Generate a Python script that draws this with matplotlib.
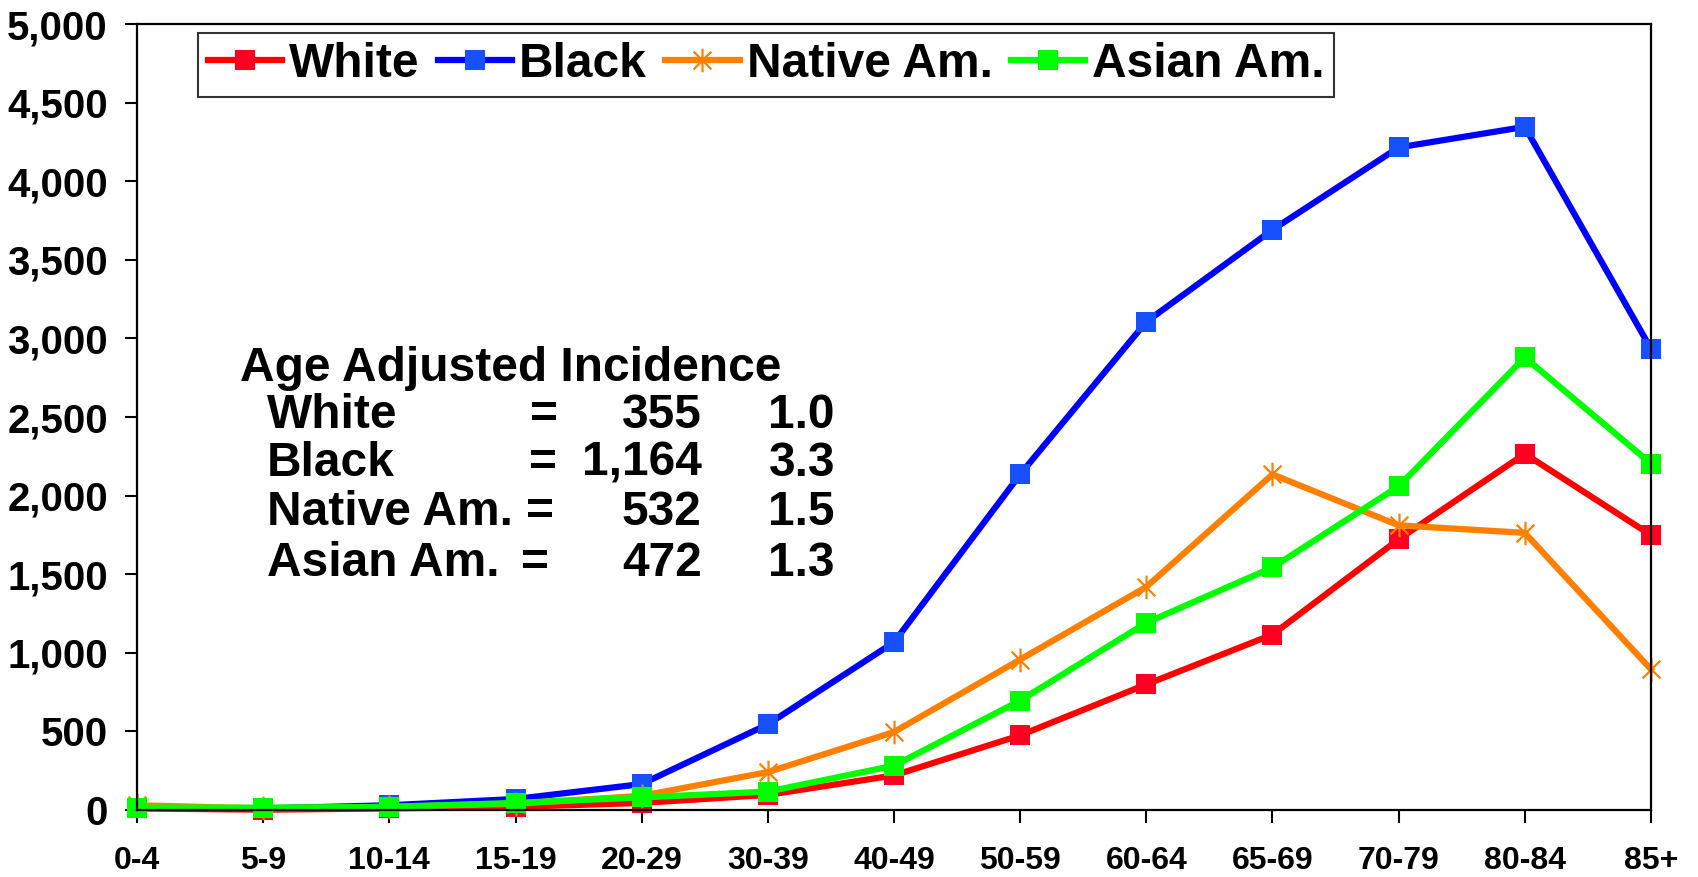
import matplotlib
matplotlib.use("Agg")
import matplotlib.pyplot as plt
from matplotlib.path import Path
from matplotlib.ticker import FuncFormatter, MultipleLocator

plt.rcParams['font.family'] = ['Liberation Sans', 'DejaVu Sans']
plt.rcParams['font.weight'] = 'bold'

ages = ['0-4', '5-9', '10-14', '15-19', '20-29', '30-39', '40-49',
        '50-59', '60-64', '65-69', '70-79', '80-84', '85+']

white = [10, 2, 10, 20, 45, 96, 220, 475, 799, 1116, 1722, 2266, 1749]
black = [15, 10, 30, 70, 165, 545, 1067, 2135, 3106, 3691, 4215, 4346, 2934]
native = [30, 10, 20, 40, 90, 241, 496, 957, 1419, 2135, 1811, 1763, 895]
asian = [15, 15, 20, 45, 80, 117, 282, 696, 1191, 1543, 2059, 2879, 2204]

series_names = ['White', 'Black', 'Native Am.', 'Asian Am.']

# table of age adjusted incidence
adj_names = ['White', 'Black', 'Native Am.', 'Asian Am.']
adj_rates = ['355', '1,164', '532', '472']
adj_ratio = ['1.0', '3.3', '1.5', '1.3']

# excel-like star: vertical bar plus an X
star = Path([(0, -1), (0, 1), (-0.75, -0.75), (0.75, 0.75), (-0.75, 0.75), (0.75, -0.75)],
            [Path.MOVETO, Path.LINETO] * 3)

fig = plt.figure(figsize=(16.98, 8.77), dpi=100)
ax = fig.add_axes([0.0807, 0.0764, 0.8916, 0.8962])

x = list(range(len(ages)))
styles = [
    (white, '#FF0000', '#FF0022', 's'),
    (black, '#0000FF', '#1650FF', 's'),
    (native, '#FF8000', '#FF8000', star),
    (asian, '#00FF00', '#00FF00', 's'),
]
for (vals, lc, mc, mk), name in zip(styles, series_names):
    sq = isinstance(mk, str)
    ax.plot(x, vals, color=lc, lw=4.5, marker=mk, ms=15 if sq else 17,
            mfc=mc, mec=mc, mew=0 if sq else 1.6, label=name, clip_on=False)

ax.set_xlim(0, 12)
ax.set_ylim(0, 5000)
ax.set_xticks(x)
ax.set_xticklabels(ages)
ax.yaxis.set_major_locator(MultipleLocator(500))
ax.yaxis.set_major_formatter(FuncFormatter(lambda v, p: f"{v:,.0f}"))

for s in ax.spines.values():
    s.set_linewidth(1.6)
    s.set_color('black')
ax.tick_params(axis='y', direction='out', length=9, width=1.5, pad=12,
               labelsize=29)
ax.tick_params(axis='x', direction='out', length=9, width=1.5, pad=17,
               labelsize=23)
for lab in ax.get_xticklabels() + ax.get_yticklabels():
    lab.set_fontweight('bold')

leg = ax.legend(loc='upper left', ncol=4, bbox_to_anchor=(0.0403, 0.989),
                frameon=True, fancybox=False, edgecolor='black',
                prop={'size': 34.5, 'weight': 'bold'}, handlelength=1.55,
                handletextpad=0.15, columnspacing=0.38, borderpad=0.2,
                borderaxespad=0)
leg.get_frame().set_linewidth(1.5)

ax.text(0.068, 0.562, 'Age Adjusted Incidence', transform=ax.transAxes,
        fontsize=34.5, fontweight='bold', va='center', ha='left')
row_y = [0.502, 0.441, 0.379, 0.313]
eq_x = [0.269, 0.268, 0.266, 0.263]
for i in range(4):
    ax.text(0.086, row_y[i], adj_names[i], transform=ax.transAxes,
            fontsize=34.5, fontweight='bold', va='center', ha='left')
    ax.text(eq_x[i], row_y[i], '=', transform=ax.transAxes,
            fontsize=34.5, fontweight='bold', va='center', ha='center')
    ax.text(0.373, row_y[i], adj_rates[i], transform=ax.transAxes,
            fontsize=34.5, fontweight='bold', va='center', ha='right')
    ax.text(0.461, row_y[i], adj_ratio[i], transform=ax.transAxes,
            fontsize=34.5, fontweight='bold', va='center', ha='right')

fig.savefig('out.png', dpi=100)
